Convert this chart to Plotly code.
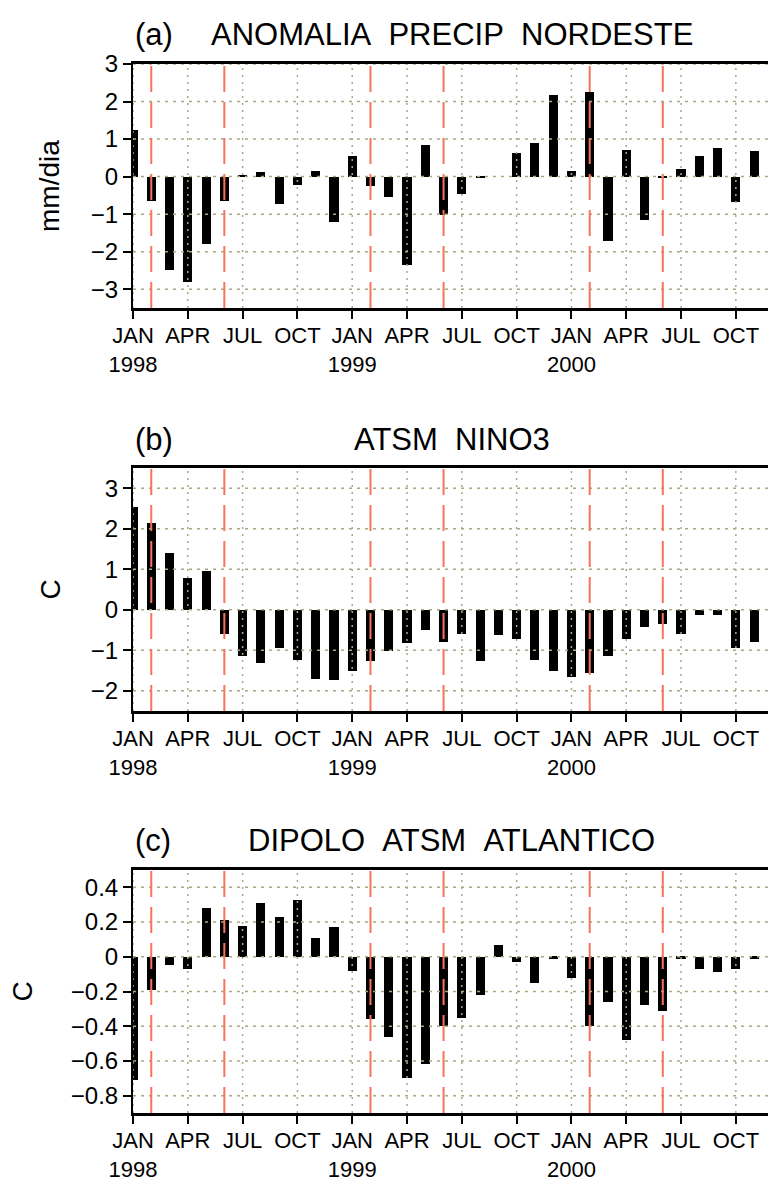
import plotly.graph_objects as go

# ---------------- data (monthly, Jan 1998 .. Dec 2000) ----------------
month_index = list(range(36))  # 0 = JAN 1998

precip_nordeste = [1.24, -0.64, -2.48, -2.81, -1.79, -0.64, 0.04, 0.12, -0.74, -0.21, 0.16, -1.20,
                   0.55, -0.26, -0.55, -2.35, 0.84, -1.02, -0.47, -0.05, 0.00, 0.64, 0.89, 2.17,
                   0.16, 2.25, -1.71, 0.72, -1.15, -0.02, 0.21, 0.55, 0.76, -0.68, 0.67, 0.67]

atsm_nino3 = [2.54, 2.15, 1.39, 0.79, 0.96, -0.60, -1.14, -1.31, -0.95, -1.23, -1.70, -1.74,
              -1.51, -1.26, -1.02, -0.83, -0.51, -0.79, -0.60, -1.26, -0.63, -0.71, -1.23, -1.51,
              -1.67, -1.55, -1.14, -0.71, -0.43, -0.35, -0.60, -0.12, -0.12, -0.95, -0.79, -0.83]

dipolo_atlantico = [-0.71, -0.19, -0.05, -0.07, 0.28, 0.21, 0.18, 0.31, 0.23, 0.33, 0.11, 0.17,
                    -0.08, -0.36, -0.46, -0.70, -0.62, -0.40, -0.35, -0.22, 0.07, -0.03, -0.15, -0.01,
                    -0.12, -0.40, -0.26, -0.48, -0.28, -0.31, -0.01, -0.07, -0.09, -0.07, -0.01, -0.27]

# x ticks (quarterly)
x_tickvals = [0, 3, 6, 9, 12, 15, 18, 21, 24, 27, 30, 33]
x_ticktext = ["JAN<br>1998", "APR", "JUL", "OCT",
              "JAN<br>1999", "APR", "JUL", "OCT",
              "JAN<br>2000", "APR", "JUL", "OCT"]

# rainy-season markers (FEB and JUN of each year)
season_marks = [1, 5, 13, 17, 25, 29]

# y ticks
ya_vals = [-3, -2, -1, 0, 1, 2, 3]
ya_text = ["−3", "−2", "−1", "0", "1", "2", "3"]
yb_vals = [-2, -1, 0, 1, 2, 3]
yb_text = ["−2", "−1", "0", "1", "2", "3"]
yc_vals = [-0.8, -0.6, -0.4, -0.2, 0, 0.2, 0.4]
yc_text = ["−0.8", "−0.6", "−0.4", "−0.2", "0", "0.2", "0.4"]

panels = [
    dict(tag="(a)", title="ANOMALIA\u00a0\u00a0PRECIP\u00a0\u00a0NORDESTE", ytitle="mm/dia",
         data=precip_nordeste, yrange=[-3.5, 3.0], yvals=ya_vals, ytext=ya_text),
    dict(tag="(b)", title="ATSM\u00a0\u00a0NINO3", ytitle="C",
         data=atsm_nino3, yrange=[-2.5, 3.5], yvals=yb_vals, ytext=yb_text),
    dict(tag="(c)", title="DIPOLO\u00a0\u00a0ATSM\u00a0\u00a0ATLANTICO", ytitle="C",
         data=dipolo_atlantico, yrange=[-0.9, 0.5], yvals=yc_vals, ytext=yc_text),
]

# ---------------- layout geometry ----------------
W, H = 768, 1182
ML = 133
plot_w = W - ML
# pixel top/bottom of each plot area
px_boxes = [(64, 308), (468, 711), (870, 1113)]
ytitle_px = [50, 50, 22]
title_px_y = [34, 439, 840]
title_center_px = 452
x_end = 34.76

FONT = "Liberation Sans, Arial, sans-serif"
GRID = "#aaa882"
RED = "#f8735a"

fig = go.Figure()
layout = dict(
    template="none",
    width=W, height=H,
    margin=dict(l=ML, r=0, t=0, b=0, pad=0, autoexpand=False),
    paper_bgcolor="white", plot_bgcolor="white",
    showlegend=False, bargap=0,
    font=dict(family=FONT, color="black", size=23),
)
shapes = []
annotations = []

for i, p in enumerate(panels):
    n = "" if i == 0 else str(i + 1)
    xa, ya = "x" + n, "y" + n
    top, bot = px_boxes[i]
    dom = [1 - bot / H, 1 - top / H]

    fig.add_trace(go.Bar(x=month_index, y=p["data"], width=0.5,
                         marker=dict(color="black", line=dict(width=0)),
                         xaxis=xa, yaxis=ya, hoverinfo="x+y"))

    layout["xaxis" + n] = dict(
        domain=[0, 1], anchor=ya, range=[0, x_end], automargin=False,
        tickmode="array", tickvals=x_tickvals, ticktext=x_ticktext,
        ticks="outside", ticklen=8, tickwidth=2, tickcolor="black",
        showline=True, linewidth=3, linecolor="black", mirror=True,
        showgrid=False, zeroline=False, ticklabelstandoff=-2,
        tickfont=dict(family=FONT, size=22, color="black"),
        layer="above traces",
    )
    layout["yaxis" + n] = dict(
        domain=dom, anchor=xa, range=p["yrange"], automargin=False,
        tickmode="array", tickvals=p["yvals"], ticktext=p["ytext"],
        ticks="outside", ticklen=8, tickwidth=2, tickcolor="black",
        showline=True, linewidth=2, linecolor="black", mirror=False,
        showgrid=False, zeroline=False,
        tickfont=dict(family=FONT, size=24, color="black"),
        layer="above traces",
    )

    # dotted grid above the bars
    for xv in x_tickvals:
        shapes.append(dict(type="line", xref=xa, yref=ya + " domain", x0=xv, x1=xv, y0=0, y1=1,
                           line=dict(color=GRID, width=1.5, dash="2px,5px"), layer="above"))
    for yv in p["yvals"]:
        shapes.append(dict(type="line", xref=xa + " domain", yref=ya, x0=0, x1=1, y0=yv, y1=yv,
                           line=dict(color=GRID, width=1.5, dash="3px,5px"), layer="above"))
    # red dashed season lines
    for xv in season_marks:
        shapes.append(dict(type="line", xref=xa, yref=ya + " domain", x0=xv, x1=xv, y0=0, y1=1,
                           line=dict(color=RED, width=2, dash="26px,10px"), layer="above"))

    # titles
    ty = 1 - title_px_y[i] / H
    annotations.append(dict(text=p["tag"], xref="paper", yref="paper",
                            x=0, y=ty, xanchor="left", yanchor="middle", showarrow=False,
                            font=dict(family=FONT, size=31, color="black")))
    annotations.append(dict(text=p["title"], xref="paper", yref="paper",
                            x=(title_center_px - ML) / plot_w, y=ty, xanchor="center",
                            yanchor="middle", showarrow=False,
                            font=dict(family=FONT, size=31, color="black")))
    # y-axis title
    annotations.append(dict(text=p["ytitle"], xref="paper", yref="paper",
                            x=(ytitle_px[i] - ML) / plot_w, y=(dom[0] + dom[1]) / 2,
                            xanchor="center", yanchor="middle", textangle=-90, showarrow=False,
                            font=dict(family=FONT, size=28, color="black")))

layout["shapes"] = shapes
layout["annotations"] = annotations
fig.update_layout(**layout)
fig.write_html("out.html")
